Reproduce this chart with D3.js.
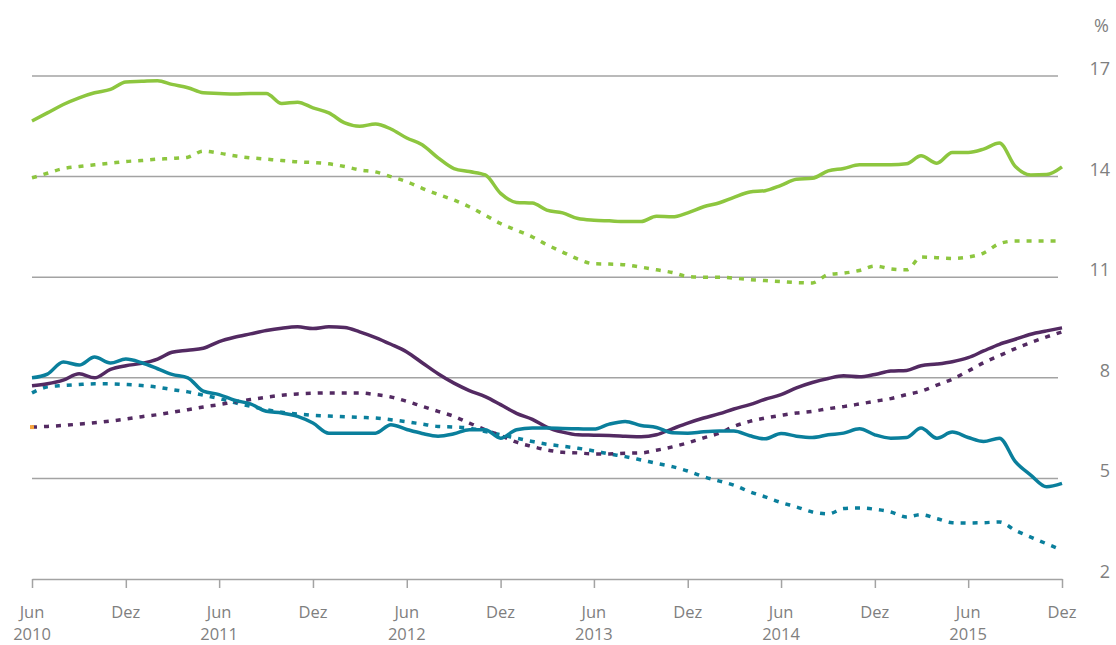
<!DOCTYPE html>
<html lang="de">
<head>
<meta charset="UTF-8">
<title>Zinsentwicklung 2010-2015</title>
<script src="https://d3js.org/d3.v7.min.js"></script>
<style>
    body { margin: 0; background: #fff; }
    svg text { font-family: "Open Sans", sans-serif; fill: #7f7f7f; }
</style>
</head>
<body>
<svg width="1116" height="645"></svg>

<script>
// monthly values, Jun 2010 .. Dez 2015 (67 points)
const startMonth = new Date(2010, 5, 1);

const greenSolid = [15.66, 15.9, 16.15, 16.35, 16.5, 16.6, 16.82, 16.84, 16.86, 16.75,
    16.65, 16.5, 16.48, 16.46, 16.48, 16.48, 16.18, 16.22, 16.05, 15.9,
    15.6, 15.5, 15.57, 15.42, 15.15, 14.95, 14.56, 14.24, 14.15, 14.05,
    13.5, 13.23, 13.21, 13.0, 12.92, 12.75, 12.7, 12.68, 12.66, 12.66,
    12.82, 12.8, 12.92, 13.1, 13.22, 13.38, 13.54, 13.58, 13.74, 13.92,
    13.95, 14.17, 14.24, 14.35, 14.35, 14.35, 14.38, 14.62, 14.4, 14.72,
    14.72, 14.82, 15.0, 14.3, 14.05, 14.06, 14.29];

const greenDotted = [13.96, 14.1, 14.24, 14.3, 14.35, 14.4, 14.45, 14.48, 14.52, 14.54,
    14.58, 14.76, 14.7, 14.62, 14.56, 14.52, 14.48, 14.44, 14.42, 14.38,
    14.3, 14.2, 14.14, 14.0, 13.85, 13.65, 13.47, 13.3, 13.1, 12.85,
    12.6, 12.4, 12.2, 11.97, 11.75, 11.54, 11.4, 11.39, 11.37, 11.3,
    11.22, 11.14, 11.02, 11.0, 11.0, 10.97, 10.93, 10.9, 10.87, 10.84,
    10.83, 11.08, 11.12, 11.2, 11.33, 11.25, 11.22, 11.6, 11.58, 11.56,
    11.6, 11.72, 12.0, 12.08, 12.08, 12.08, 12.08];

const purpleSolid = [7.76, 7.82, 7.93, 8.12, 8.0, 8.25, 8.36, 8.43, 8.56, 8.76,
    8.82, 8.88, 9.08, 9.21, 9.31, 9.41, 9.48, 9.52, 9.47, 9.52,
    9.5, 9.37, 9.2, 9.0, 8.77, 8.45, 8.12, 7.84, 7.62, 7.44,
    7.2, 6.94, 6.76, 6.53, 6.38, 6.3, 6.29, 6.28, 6.26, 6.24,
    6.3, 6.48, 6.65, 6.8, 6.93, 7.07, 7.2, 7.36, 7.5, 7.7,
    7.86, 7.98, 8.06, 8.03, 8.1, 8.2, 8.22, 8.36, 8.41, 8.48,
    8.6, 8.8, 9.0, 9.15, 9.3, 9.4, 9.49];

const purpleDotted = [6.53, 6.55, 6.58, 6.62, 6.66, 6.71, 6.77, 6.84, 6.9, 6.97,
    7.05, 7.13, 7.2, 7.28, 7.35, 7.42, 7.48, 7.52, 7.54, 7.55,
    7.55, 7.55, 7.5, 7.43, 7.3, 7.15, 7.0, 6.85, 6.65, 6.45,
    6.28, 6.08, 5.95, 5.85, 5.78, 5.76, 5.73, 5.73, 5.75, 5.76,
    5.84, 5.94, 6.06, 6.21, 6.35, 6.55, 6.7, 6.8, 6.88, 6.95,
    7.0, 7.08, 7.14, 7.22, 7.3, 7.38, 7.5, 7.6, 7.78, 7.96,
    8.2, 8.45, 8.66, 8.87, 9.05, 9.22, 9.37];

const tealSolid = [8.0, 8.11, 8.47, 8.38, 8.62, 8.44, 8.56, 8.45, 8.27, 8.1,
    8.0, 7.6, 7.5, 7.33, 7.22, 7.0, 6.95, 6.85, 6.65, 6.35,
    6.35, 6.35, 6.35, 6.6, 6.46, 6.34, 6.26, 6.33, 6.45, 6.45,
    6.2, 6.45, 6.5, 6.5, 6.49, 6.48, 6.47, 6.62, 6.7, 6.58,
    6.52, 6.36, 6.35, 6.39, 6.41, 6.41, 6.27, 6.18, 6.34, 6.26,
    6.22, 6.3, 6.35, 6.48, 6.3, 6.2, 6.22, 6.5, 6.2, 6.38,
    6.22, 6.1, 6.2, 5.5, 5.1, 4.75, 4.85];

const tealDotted = [7.55, 7.73, 7.77, 7.8, 7.82, 7.82, 7.8, 7.77, 7.72, 7.65,
    7.58, 7.48, 7.38, 7.26, 7.15, 7.05, 6.97, 6.92, 6.88, 6.86,
    6.84, 6.82, 6.8, 6.75, 6.69, 6.62, 6.55, 6.53, 6.5, 6.4,
    6.3, 6.2, 6.1, 6.02, 5.96, 5.9, 5.82, 5.73, 5.65, 5.55,
    5.45, 5.35, 5.22, 5.05, 4.92, 4.8, 4.6, 4.45, 4.28, 4.15,
    4.0, 3.94, 4.1, 4.12, 4.08, 4.0, 3.85, 3.92, 3.8, 3.68,
    3.67, 3.68, 3.7, 3.45, 3.25, 3.05, 2.86];

const yTicks = [2, 5, 8, 11, 14, 17];
const xTickDates = [];
for (let yr = 2010; yr <= 2015; yr++) {
    xTickDates.push(new Date(yr, 5, 1));
    xTickDates.push(new Date(yr, 11, 1));
}

const series = [
    { values: greenDotted,  color: "#8dc63f", dash: "5,7" },
    { values: greenSolid,   color: "#8dc63f", dash: null },
    { values: tealDotted,   color: "#0a7f9c", dash: "5,7" },
    { values: purpleDotted, color: "#532a62", dash: "5,7" },
    { values: purpleSolid,  color: "#532a62", dash: null },
    { values: tealSolid,    color: "#0a7f9c", dash: null }
];

const svg = d3.select("svg");

const x = d3.scaleTime()
    .domain([startMonth, new Date(2015, 11, 1)])
    .range([32, 1062]);
const y = d3.scaleLinear()
    .domain([2, 17])
    .range([579, 76]);

// horizontal grid lines
svg.append("g")
    .selectAll("line")
    .data(yTicks.filter(d => d > 2))
    .enter().append("line")
    .attr("x1", 32)
    .attr("x2", 1058)
    .attr("y1", d => y(d))
    .attr("y2", d => y(d))
    .attr("stroke", "#a3a3a3")
    .attr("stroke-width", 1.5);

// y labels on the right
svg.append("g")
    .selectAll("text")
    .data(yTicks)
    .enter().append("text")
    .attr("x", 1110)
    .attr("y", d => y(d) - 1)
    .attr("text-anchor", "end")
    .style("font-size", "18px")
    .text(d => d);

svg.append("text")
    .attr("x", 1109)
    .attr("y", 32)
    .attr("text-anchor", "end")
    .style("font-size", "18px")
    .text("%");

// bottom axis
const xAxis = svg.append("g")
    .attr("transform", "translate(0,579)")
    .call(d3.axisBottom(x).tickValues(xTickDates).tickSize(9).tickSizeOuter(0).tickFormat(""));
xAxis.select(".domain").attr("stroke", "#a3a3a3").attr("stroke-width", 1.5);
xAxis.selectAll(".tick line").attr("stroke", "#a3a3a3").attr("stroke-width", 1.5);

const tickLabels = svg.append("g")
    .selectAll("text")
    .data(xTickDates)
    .enter().append("text")
    .attr("x", d => x(d))
    .attr("y", 618)
    .attr("text-anchor", "middle")
    .style("font-size", "16.5px");
tickLabels.append("tspan").text(d => d.getMonth() === 5 ? "Jun" : "Dez");
tickLabels.filter(d => d.getMonth() === 5)
    .append("tspan")
    .attr("x", d => x(d))
    .attr("dy", 22)
    .text(d => d.getFullYear());

// lines
const line = d3.line()
    .x((d, i) => x(d3.timeMonth.offset(startMonth, i)))
    .y(d => y(d))
    .curve(d3.curveMonotoneX);

svg.append("g")
    .selectAll("path")
    .data(series)
    .enter().append("path")
    .attr("d", d => line(d.values))
    .attr("fill", "none")
    .attr("stroke", d => d.color)
    .attr("stroke-width", 3.5)
    .attr("stroke-linejoin", "round")
    .attr("stroke-dasharray", d => d.dash);

// small orange mark at the start of the dotted purple series
svg.append("rect")
    .attr("x", x(startMonth) - 2)
    .attr("y", y(purpleDotted[0]) - 2)
    .attr("width", 4)
    .attr("height", 4)
    .attr("fill", "#f6a43c");
</script>
</body>
</html>
